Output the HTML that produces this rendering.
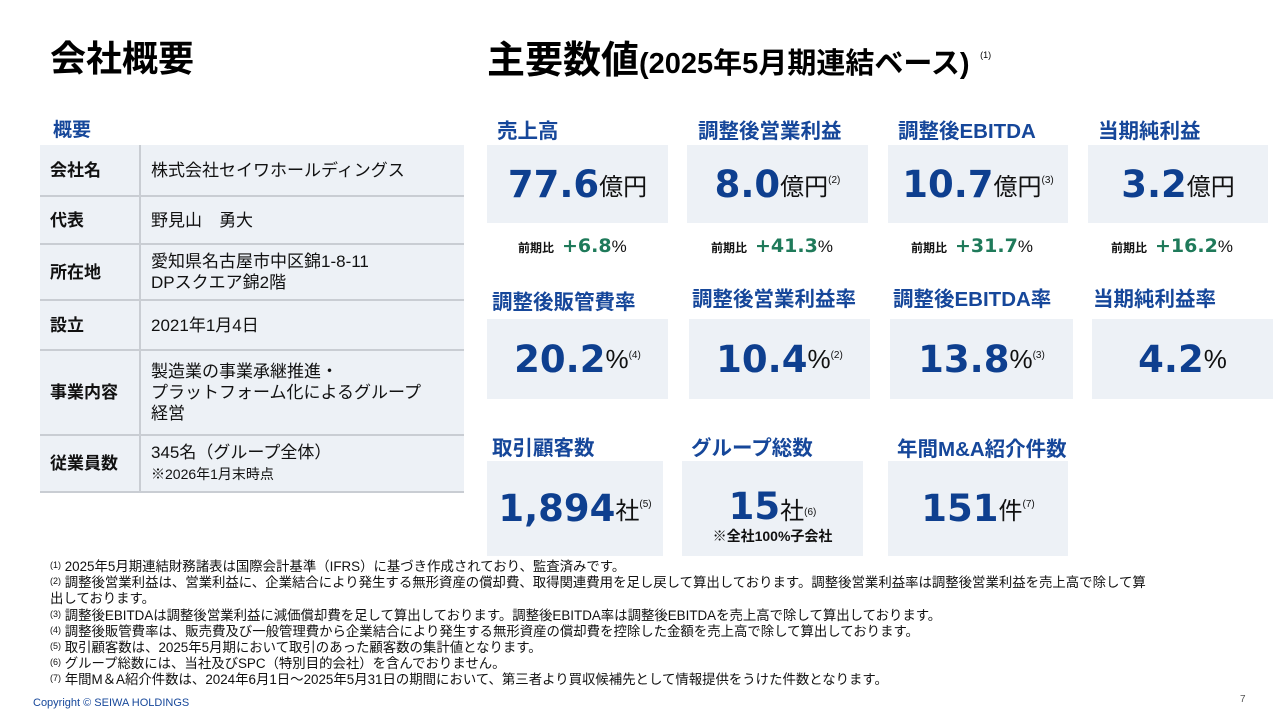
<!DOCTYPE html>
<html><head><meta charset="utf-8">
<style>
*{margin:0;padding:0;box-sizing:border-box}
body{width:1280px;height:720px;background:#fff;position:relative;overflow:hidden;font-family:"Liberation Sans","Noto Sans CJK JP",sans-serif;color:#111}
.a{position:absolute}
.h1{font-size:36px;font-weight:bold;color:#000}
.sub{font-size:19px;font-weight:bold;color:#16479a}
.kt{font-size:20.5px;font-weight:bold;color:#16479a;white-space:nowrap}
.box{position:absolute;background:#edf1f6;display:flex;align-items:center;justify-content:center;white-space:nowrap}
.num{font-size:37px;font-weight:bold;color:#0e3f8f;font-family:"DejaVu Sans","Noto Sans CJK JP",sans-serif;letter-spacing:0}
.unit{font-size:24px;color:#111}
.pct{font-size:26px;color:#111}
.sup{font-size:10px;color:#111;position:relative;top:-4px}
.yoy{position:absolute;font-size:12px;font-weight:bold;white-space:nowrap}
.yoy b{font-size:19px;color:#1f7a5a;font-family:"DejaVu Sans",sans-serif;margin-left:8px}
.yoy i{font-style:normal;font-size:17px;font-weight:normal}
table{position:absolute;left:40px;top:145px;width:424px;border-collapse:collapse;background:#edf1f6;font-size:17px}
td{border-bottom:2px solid #c9cdd3;padding:0 0 0 10px;vertical-align:middle;line-height:21px}
td.l{width:100px;font-weight:bold;border-right:2px solid #c9cdd3}
.fn{position:absolute;left:50px;top:559px;font-size:13.4px;color:#111;width:1120px}
.fn div{line-height:16.2px;height:16.2px;white-space:nowrap}
.fn div.two{height:32.4px}
.fn span{font-size:9px;line-height:0;position:relative;top:-3px}
</style></head><body>
<div class="a h1" style="left:50px;top:30px">会社概要</div>
<div class="a h1" style="left:487px;top:29px;white-space:nowrap;font-size:38px">主要数値<span style="font-size:29px">(2025年5月期連結ベース)</span> <span style="font-size:9px;font-weight:normal;vertical-align:top;position:relative;top:21px">(1)</span></div>
<div class="a sub" style="left:53px;top:115px">概要</div>
<table>
<tr style="height:51px"><td class="l">会社名</td><td>株式会社セイワホールディングス</td></tr>
<tr style="height:48px"><td class="l">代表</td><td>野見山　勇大</td></tr>
<tr style="height:56px"><td class="l">所在地</td><td>愛知県名古屋市中区錦1-8-11<br>DPスクエア錦2階</td></tr>
<tr style="height:50px"><td class="l">設立</td><td>2021年1月4日</td></tr>
<tr style="height:85px"><td class="l">事業内容</td><td>製造業の事業承継推進・<br>プラットフォーム化によるグループ<br>経営</td></tr>
<tr style="height:57px"><td class="l">従業員数</td><td>345名（グループ全体）<br><span style="font-size:14px">※2026年1月末時点</span></td></tr>
</table>

<div class="a kt" style="left:497px;top:114px">売上高</div>
<div class="box" style="left:487px;top:145px;width:181px;height:78px"><span class="num">77.6</span><span class="unit">億円</span></div>
<div class="yoy" style="left:518px;top:235px">前期比<b>+6.8</b><i>%</i></div>

<div class="a kt" style="left:698px;top:114px">調整後営業利益</div>
<div class="box" style="left:687px;top:145px;width:181px;height:78px"><span class="num">8.0</span><span class="unit">億円</span><span class="sup">(2)</span></div>
<div class="yoy" style="left:711px;top:235px">前期比<b>+41.3</b><i>%</i></div>

<div class="a kt" style="left:898px;top:114px">調整後EBITDA</div>
<div class="box" style="left:888px;top:145px;width:180px;height:78px"><span class="num">10.7</span><span class="unit">億円</span><span class="sup">(3)</span></div>
<div class="yoy" style="left:911px;top:235px">前期比<b>+31.7</b><i>%</i></div>

<div class="a kt" style="left:1098px;top:114px">当期純利益</div>
<div class="box" style="left:1088px;top:145px;width:180px;height:78px"><span class="num">3.2</span><span class="unit">億円</span></div>
<div class="yoy" style="left:1111px;top:235px">前期比<b>+16.2</b><i>%</i></div>

<div class="a kt" style="left:492px;top:285px">調整後販管費率</div>
<div class="box" style="left:487px;top:319px;width:181px;height:80px"><span class="num">20.2</span><span class="pct">%</span><span class="sup">(4)</span></div>
<div class="a kt" style="left:692px;top:282px">調整後営業利益率</div>
<div class="box" style="left:689px;top:319px;width:181px;height:80px"><span class="num">10.4</span><span class="pct">%</span><span class="sup">(2)</span></div>
<div class="a kt" style="left:893px;top:282px">調整後EBITDA率</div>
<div class="box" style="left:890px;top:319px;width:183px;height:80px"><span class="num">13.8</span><span class="pct">%</span><span class="sup">(3)</span></div>
<div class="a kt" style="left:1093px;top:282px">当期純利益率</div>
<div class="box" style="left:1092px;top:319px;width:181px;height:80px"><span class="num">4.2</span><span class="pct">%</span></div>

<div class="a kt" style="left:492px;top:431px">取引顧客数</div>
<div class="box" style="left:487px;top:461px;width:176px;height:95px"><span class="num">1,894</span><span class="unit">社</span><span class="sup">(5)</span></div>
<div class="a kt" style="left:691px;top:431px">グループ総数</div>
<div class="box" style="left:682px;top:461px;width:181px;height:95px;flex-direction:column"><div style="margin-top:14px"><span class="num">15</span><span class="unit">社</span><span class="sup">(6)</span></div><div style="font-size:14px;font-weight:bold;margin-top:-2px">※全社100%子会社</div></div>
<div class="a kt" style="left:897px;top:432px">年間M&amp;A紹介件数</div>
<div class="box" style="left:888px;top:461px;width:180px;height:95px"><span class="num">151</span><span class="unit">件</span><span class="sup">(7)</span></div>

<div class="fn">
<div><span>(1)</span> 2025年5月期連結財務諸表は国際会計基準（IFRS）に基づき作成されており、監査済みです。</div>
<div class="two"><span>(2)</span> 調整後営業利益は、営業利益に、企業結合により発生する無形資産の償却費、取得関連費用を足し戻して算出しております。調整後営業利益率は調整後営業利益を売上高で除して算<br>出しております。</div>
<div><span>(3)</span> 調整後EBITDAは調整後営業利益に減価償却費を足して算出しております。調整後EBITDA率は調整後EBITDAを売上高で除して算出しております。</div>
<div><span>(4)</span> 調整後販管費率は、販売費及び一般管理費から企業結合により発生する無形資産の償却費を控除した金額を売上高で除して算出しております。</div>
<div><span>(5)</span> 取引顧客数は、2025年5月期において取引のあった顧客数の集計値となります。</div>
<div><span>(6)</span> グループ総数には、当社及びSPC（特別目的会社）を含んでおりません。</div>
<div><span>(7)</span> 年間M＆A紹介件数は、2024年6月1日～2025年5月31日の期間において、第三者より買収候補先として情報提供をうけた件数となります。</div>
</div>
<div class="a" style="left:33px;top:697px;font-size:11px;color:#16479a">Copyright © SEIWA HOLDINGS</div>
<div class="a" style="left:1240px;top:694px;font-size:10px;color:#555">7</div>
</body></html>
